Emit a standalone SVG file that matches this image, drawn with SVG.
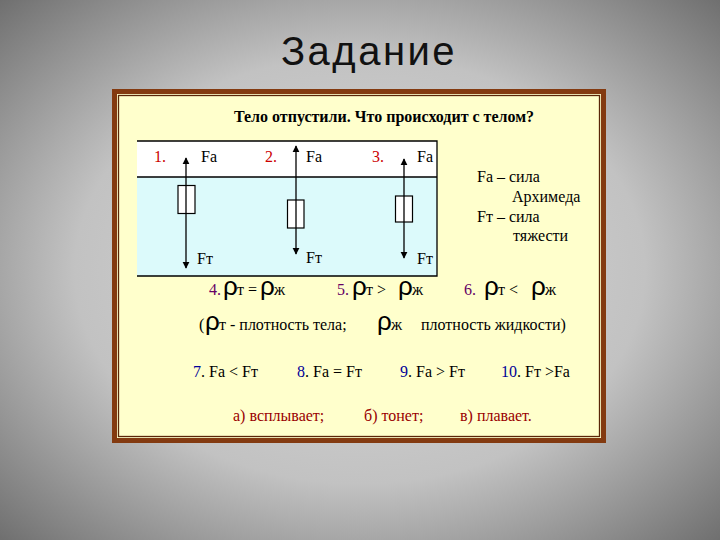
<svg xmlns="http://www.w3.org/2000/svg" width="720" height="540" viewBox="0 0 720 540">
<defs>
<radialGradient id="bg" cx="50%" cy="50%" r="72%">
<stop offset="0" stop-color="#d8d8d8"/>
<stop offset="0.55" stop-color="#c2c2c2"/>
<stop offset="1" stop-color="#6c6c6c"/>
</radialGradient>
<marker id="ah" viewBox="0 0 10 10" refX="9" refY="5" markerWidth="7" markerHeight="10" markerUnits="userSpaceOnUse" orient="auto">
<path d="M0,0 L10,5 L0,10 Z" fill="#000"/>
</marker>
<style>
.t{font-family:"Liberation Serif","Times New Roman",serif;font-size:16px;fill:#000}
.b{font-weight:bold}
.red{fill:#cc0000}
.pur{fill:#660066}
.blu{fill:#000099}
.dred{fill:#990000}
.rho{font-family:"Liberation Sans",Arial,sans-serif;font-size:26px}
.box{fill:#fff;stroke:#000;stroke-width:1.2}
.arr{stroke:#000;stroke-width:1.3;fill:none;marker-end:url(#ah)}
</style>
</defs>
<rect width="720" height="540" fill="url(#bg)"/>
<g id="heading">
<text x="369" y="65" text-anchor="middle" font-family="'Liberation Sans',Arial,sans-serif" font-size="40" letter-spacing="2.5" fill="#111">Задание</text>
</g>
<g id="frame">
<rect x="114.5" y="91.5" width="489" height="349" fill="#ffffcc" stroke="#833a10" stroke-width="5"/>
<rect x="118.5" y="95.5" width="481" height="341" fill="none" stroke="#5a2608" stroke-width="1.3"/>
</g>
<g id="question">
<text class="t b" x="384" y="122" text-anchor="middle">Тело отпустили. Что происходит с телом?</text>
</g>
<g id="vessel">
<rect x="137" y="141" width="300" height="36" fill="#ffffff"/>
<rect x="137" y="177" width="300" height="99" fill="#dcfafb"/>
<path d="M137,141 H437 V276 H137 M137,177 H437" fill="none" stroke="#000" stroke-width="1.3"/>
</g>
<g id="body1">
<text class="t red" x="154" y="162">1.</text>
<text class="t" x="201" y="162">Fa</text>
<text class="t" x="197" y="264">Fт</text>
<rect class="box" x="178" y="185.5" width="17" height="28"/>
</g>
<g id="body2">
<text class="t red" x="265" y="162">2.</text>
<text class="t" x="306" y="162">Fa</text>
<text class="t" x="306" y="263">Fт</text>
<rect class="box" x="287.5" y="200" width="16.5" height="28"/>
</g>
<g id="body3">
<text class="t red" x="372" y="162">3.</text>
<text class="t" x="417" y="162">Fa</text>
<text class="t" x="417" y="264">Fт</text>
<rect class="box" x="395.5" y="196" width="17" height="26"/>
</g>
<g id="connectors">
<line class="arr" x1="186" y1="199" x2="186" y2="158"/>
<line class="arr" x1="186" y1="199" x2="186" y2="268"/>
<line class="arr" x1="296" y1="214" x2="296" y2="146"/>
<line class="arr" x1="296" y1="214" x2="296" y2="254"/>
<line class="arr" x1="404" y1="209" x2="404" y2="159"/>
<line class="arr" x1="404" y1="209" x2="404" y2="258"/>
</g>
<g id="legend">
<text class="t" x="477" y="182">Fa – сила</text>
<text class="t" x="512" y="202">Архимеда</text>
<text class="t" x="477" y="222">Fт – сила</text>
<text class="t" x="513" y="241">тяжести</text>
</g>
<g id="densities">
<text class="t pur" x="209" y="295">4.</text>
<text class="t rho" x="223" y="295">ρ</text>
<text class="t" x="237" y="295">т =</text>
<text class="t rho" x="260" y="295">ρ</text>
<text class="t" x="274" y="295">ж</text>
<text class="t pur" x="337" y="295">5.</text>
<text class="t rho" x="352" y="295">ρ</text>
<text class="t" x="366" y="295">т  &gt;</text>
<text class="t rho" x="398" y="295">ρ</text>
<text class="t" x="412" y="295">ж</text>
<text class="t pur" x="464" y="295">6.</text>
<text class="t rho" x="484" y="295">ρ</text>
<text class="t" x="498" y="295">т  &lt;</text>
<text class="t rho" x="531" y="295">ρ</text>
<text class="t" x="545" y="295">ж</text>
</g>
<g id="definitions">
<text class="t" x="199" y="330">(</text>
<text class="t rho" x="205" y="330">ρ</text>
<text class="t" x="219" y="330">т -  плотность тела;</text>
<text class="t rho" x="377" y="330">ρ</text>
<text class="t" x="391" y="330">ж</text>
<text class="t" x="421" y="330">плотность жидкости)</text>
</g>
<g id="forces">
<text class="t" x="193" y="377"><tspan class="blu">7</tspan>. Fa &lt; Fт</text>
<text class="t" x="297" y="377"><tspan class="blu">8</tspan>. Fa = Fт</text>
<text class="t" x="400" y="377"><tspan class="blu">9</tspan>. Fa &gt; Fт</text>
<text class="t" x="501" y="377"><tspan class="blu">10</tspan>. Fт &gt;Fa</text>
</g>
<g id="answers">
<text class="t dred" x="233" y="421">а) всплывает;</text>
<text class="t dred" x="364" y="421">б) тонет;</text>
<text class="t dred" x="460" y="421">в) плавает.</text>
</g>
</svg>
